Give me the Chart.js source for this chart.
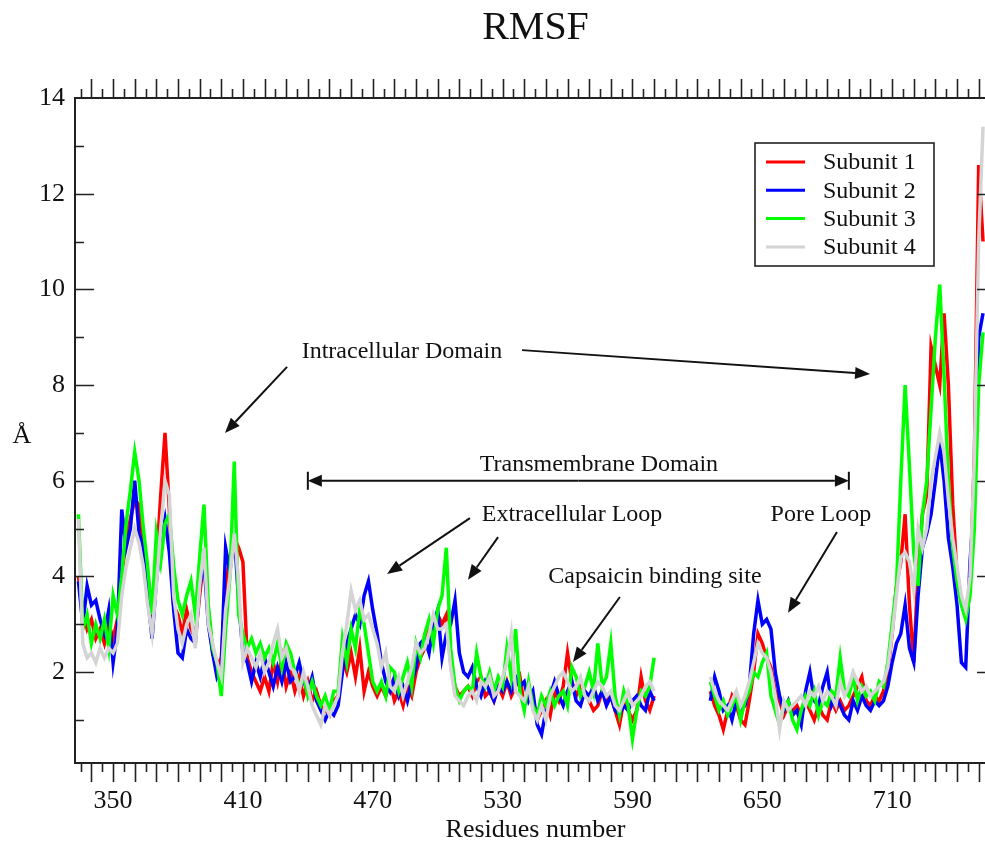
<!DOCTYPE html>
<html><head><meta charset="utf-8">
<script src="https://cdn.jsdelivr.net/npm/chart.js@4.4.0/dist/chart.umd.min.js"></script>
<style>
html,body{margin:0;padding:0;background:#fff;overflow:hidden;width:985px;height:843px;}
#wrap{position:relative;width:1010px;height:843px;}
</style></head><body>
<div id="wrap"><canvas id="c" width="1010" height="843"></canvas></div>
<script>
// ---------- data ----------
const RES_START = 334, RES_END = 752, RES_STEP = 2;
const residues = [];
for (let r = RES_START; r <= RES_END; r += RES_STEP) residues.push(r);

const X_TICK_LABELS = [350, 410, 470, 530, 590, 650, 710];
const Y_TICK_LABELS = [2, 4, 6, 8, 10, 12, 14];
const SERIES_NAMES = ['Subunit 1', 'Subunit 2', 'Subunit 3', 'Subunit 4'];

const subunit1 = [
 4.0,3.3,2.9,3.1,2.7,2.9,2.6,3.0,2.7,3.1,
 4.0,4.8,5.2,5.6,5.5,4.6,3.6,2.9,4.2,5.7,
 7.0,5.4,3.4,3.2,2.8,3.3,2.9,2.7,3.6,4.4,
 3.3,2.4,2.1,2.3,3.8,4.4,4.8,4.6,4.3,2.3,
 2.0,1.8,1.6,1.9,1.6,2.2,1.8,2.3,1.7,2.0,
 1.6,1.9,1.5,1.8,1.4,1.6,1.3,1.2,1.1,1.4,
 1.5,2.3,2.0,2.4,1.9,2.5,1.6,2.0,1.7,1.5,
 1.7,1.5,1.8,1.4,1.6,1.3,1.7,1.5,2.0,2.3,
 2.5,2.9,3.1,3.2,3.0,3.2,2.2,1.7,1.5,1.6,
 1.7,1.5,1.8,1.9,1.5,1.6,1.4,1.7,1.5,1.8,
 1.5,1.7,1.9,1.3,1.6,1.4,1.0,1.2,1.4,1.1,
 1.6,1.4,1.7,2.4,1.8,1.5,1.7,1.6,1.4,1.2,
 1.3,1.6,1.4,1.5,1.2,0.9,1.4,1.2,1.0,1.2,
 1.9,1.4,1.2,1.5,null,null,null,null,null,null,
 null,null,null,null,null,null,1.6,1.3,1.1,0.8,
 1.2,1.5,1.3,1.0,0.9,1.4,2.0,2.8,2.6,2.3,
 2.1,1.6,1.4,1.1,1.3,1.2,1.3,1.1,1.4,1.2,
 1.0,1.3,1.1,1.0,1.4,1.2,1.4,1.2,1.3,1.5,
 1.7,1.9,1.4,1.3,1.5,1.4,1.6,2.0,2.8,3.8,
 4.3,5.3,3.4,2.2,4.2,5.3,5.7,8.8,8.4,8.0,
 9.5,8.0,5.5,4.0,3.5,3.3,3.8,6.5,12.6,11.0
];
const subunit2 = [
 3.9,3.0,3.8,3.4,3.5,3.1,2.8,3.3,2.2,2.9,
 5.4,4.6,5.0,6.0,4.9,4.6,3.6,2.7,3.9,4.7,
 5.2,4.5,3.3,2.4,2.3,2.9,2.7,2.6,3.8,4.3,
 3.0,2.4,1.9,2.1,4.6,4.1,4.9,3.5,2.4,2.2,
 1.8,2.2,1.9,2.3,2.0,1.7,2.1,1.8,2.2,1.8,
 1.9,2.2,1.8,1.6,1.9,1.4,1.2,1.0,1.2,1.1,
 1.3,2.0,2.6,2.9,3.2,3.0,3.6,3.9,3.3,2.8,
 2.2,1.8,1.6,1.9,1.5,1.7,1.4,1.8,2.1,2.6,
 2.7,2.4,3.0,3.3,2.3,2.8,3.0,3.5,2.4,2.0,
 1.9,2.1,1.7,1.5,1.8,1.6,1.4,1.7,1.6,1.8,
 1.6,1.9,1.7,1.8,1.4,1.6,0.9,0.7,1.2,1.5,
 1.8,1.5,1.3,1.6,1.8,1.4,1.3,1.6,1.5,1.7,
 1.4,1.6,1.3,1.5,1.2,1.1,1.3,1.2,1.4,1.5,
 1.3,1.2,1.6,1.4,null,null,null,null,null,null,
 null,null,null,null,null,null,1.4,1.9,1.6,1.2,
 1.3,1.0,1.4,1.2,1.3,1.7,2.8,3.5,3.0,3.1,
 2.9,2.0,1.5,1.2,1.4,1.1,1.2,0.9,1.6,2.0,
 1.4,1.3,1.7,2.0,1.3,1.5,1.3,1.1,1.0,1.4,
 1.2,1.5,1.3,1.2,1.4,1.3,1.4,1.7,2.2,2.6,
 2.8,3.4,2.5,2.2,3.6,4.6,4.9,5.3,6.0,6.8,
 6.0,4.8,4.2,3.4,2.2,2.1,4.3,5.6,9.0,9.5
];
const subunit3 = [
 5.3,2.9,3.2,2.6,3.0,2.7,3.1,2.5,3.6,3.2,
 4.0,5.1,5.8,6.6,6.0,5.0,4.2,3.2,4.9,4.3,
 5.1,5.3,4.2,3.5,3.2,3.6,3.9,3.2,4.4,5.5,
 3.4,2.5,2.2,1.5,2.9,4.0,6.4,3.2,2.8,2.5,
 2.7,2.4,2.6,2.3,2.5,2.2,2.6,2.1,2.6,2.4,
 2.0,1.7,1.9,1.5,1.8,1.5,1.3,1.5,1.2,1.6,
 1.6,2.7,2.2,2.9,2.5,3.3,3.0,2.4,1.8,1.6,
 1.8,1.5,2.1,2.0,1.6,1.9,2.2,1.7,2.6,2.3,
 2.8,3.1,2.6,3.3,3.6,4.6,2.5,1.7,1.4,1.6,
 1.7,1.6,2.4,1.9,1.7,2.0,1.6,1.9,1.7,2.5,
 1.9,2.9,1.6,1.2,1.8,1.3,1.1,1.5,1.3,1.6,
 1.3,1.5,1.6,1.3,2.1,1.9,1.5,1.7,2.0,1.6,
 2.6,1.7,1.9,2.6,1.5,1.1,1.6,1.3,0.6,1.2,
 1.6,1.5,1.7,2.3,null,null,null,null,null,null,
 null,null,null,null,null,null,1.8,1.5,1.2,1.4,
 1.1,1.3,1.5,1.0,1.4,1.6,2.0,1.9,2.2,2.4,
 1.5,1.2,0.9,1.3,1.4,1.0,0.8,1.2,1.5,1.3,
 1.6,1.1,1.4,1.3,1.6,1.5,2.3,1.6,1.5,1.9,
 1.4,1.7,1.5,1.6,1.4,1.8,1.7,2.2,3.0,3.8,
 6.0,8.0,6.3,4.5,3.8,5.3,6.0,7.5,9.0,10.1,
 8.2,6.0,4.6,3.9,3.4,3.1,3.6,5.0,8.0,9.1
];
const subunit4 = [
 5.2,2.6,2.3,2.4,2.2,2.5,2.3,2.5,2.4,2.6,
 3.6,4.2,4.6,5.0,4.7,4.2,3.4,2.8,3.8,5.0,
 6.0,5.7,3.6,2.9,2.6,3.0,3.2,2.5,3.8,4.6,
 3.0,2.6,2.2,1.9,3.3,4.0,4.9,3.9,2.2,2.5,
 2.3,2.1,2.4,2.0,2.2,2.6,2.9,2.3,2.5,2.1,
 2.0,1.6,2.0,1.7,1.3,1.1,0.9,1.3,1.1,1.3,
 1.5,2.4,3.0,3.7,3.3,3.5,3.1,3.2,2.9,2.6,
 2.1,2.4,1.7,1.6,1.9,1.5,1.8,2.1,2.6,2.4,
 2.5,2.8,3.2,2.9,2.9,3.0,2.1,1.5,1.4,1.3,
 1.5,1.6,1.4,1.8,1.7,1.9,1.5,1.6,1.9,2.2,
 2.8,1.6,1.5,1.4,1.7,1.2,1.0,1.3,1.0,1.5,
 1.7,1.9,2.0,1.8,1.6,1.7,1.9,1.5,1.4,1.6,
 1.8,1.7,1.5,1.6,1.3,1.2,1.4,1.6,1.3,1.4,
 1.5,1.7,1.8,1.6,null,null,null,null,null,null,
 null,null,null,null,null,null,1.9,1.6,1.4,1.3,
 1.2,1.4,1.6,1.3,1.5,1.8,2.2,2.6,2.4,2.3,
 2.0,1.5,0.8,1.4,1.2,1.3,1.4,1.5,1.3,1.6,
 1.5,1.7,1.4,1.6,1.5,1.3,1.8,1.5,1.7,2.0,
 1.8,1.6,1.7,1.5,1.6,1.7,1.8,2.1,2.8,3.6,
 4.4,4.5,4.3,3.7,5.0,4.6,5.0,6.0,6.5,7.0,
 6.6,5.6,4.8,4.2,3.6,3.3,4.0,6.5,11.0,13.4
];

// ---------- styling ----------
const FONT = "'Liberation Serif', 'Times New Roman', serif";
const COLORS = ['#ff0000', '#0000ff', '#00ff00', '#d4d4d4'];
const X_MIN = 332.4, X_MAX = 758, Y_MIN = 0.1, Y_MAX = 14;

function pts(vals) { return residues.map((r, i) => ({ x: r, y: vals[i] })); }
const allSeries = [subunit1, subunit2, subunit3, subunit4];
const datasets = allSeries.map((vals, i) => ({
  label: SERIES_NAMES[i],
  data: pts(vals),
  borderColor: COLORS[i],
  backgroundColor: COLORS[i],
  borderWidth: 3.5,
  pointRadius: 0,
  tension: 0,
  spanGaps: false,
  order: 3 - i
}));

// annotations (data coordinates)
const ANNOT_TEXT = [
  { t: 'Intracellular Domain', r: 483.5, v: 8.69 },
  { t: 'Transmembrane Domain', r: 574.5, v: 6.33 },
  { t: 'Extracellular Loop', r: 562.1, v: 5.28 },
  { t: 'Pore Loop', r: 677.1, v: 5.28 },
  { t: 'Capsaicin binding site', r: 600.4, v: 3.99 }
];
const ANNOT_ARROWS = [
  [430.4, 8.38, 401.7, 7.0],
  [539.0, 8.73, 699.8, 8.23],
  [514.9, 5.22, 476.6, 4.05],
  [527.9, 4.82, 514.0, 3.93],
  [684.5, 4.93, 661.9, 3.24],
  [584.2, 3.57, 562.5, 2.21]
];
const TM_SPAN = [440, 690, 6.0];

function arrowHead(ctx, x1, y1, x2, y2, head, w) {
  const a = Math.atan2(y2 - y1, x2 - x1);
  const bx = x2 - head * Math.cos(a), by = y2 - head * Math.sin(a);
  ctx.beginPath(); ctx.moveTo(x1, y1); ctx.lineTo(bx, by); ctx.stroke();
  ctx.beginPath(); ctx.moveTo(x2, y2);
  ctx.lineTo(bx + w * Math.sin(a), by - w * Math.cos(a));
  ctx.lineTo(bx - w * Math.sin(a), by + w * Math.cos(a));
  ctx.closePath(); ctx.fill();
}

const decor = {
  id: 'decor',
  afterDraw(chart) {
    const { ctx, chartArea: a, scales: { x, y } } = chart;
    ctx.save();
    // frame
    ctx.strokeStyle = '#222'; ctx.lineWidth = 2;
    ctx.strokeRect(a.left, a.top, a.right - a.left, a.bottom - a.top);
    // x ticks (top outward, bottom outward)
    ctx.lineWidth = 1.6;
    for (let v = 335; v <= X_MAX; v += 5) {
      const px = Math.round(x.getPixelForValue(v)) + 0.5;
      const len = v % 10 === 0 ? 19 : 9;
      ctx.beginPath();
      ctx.moveTo(px, a.bottom); ctx.lineTo(px, a.bottom + len);
      ctx.moveTo(px, a.top); ctx.lineTo(px, a.top - len);
      ctx.stroke();
    }
    // y ticks (inward both sides)
    for (let v = 1; v <= 13; v++) {
      const py = Math.round(y.getPixelForValue(v)) + 0.5;
      const len = v % 2 === 0 ? 19 : 9;
      ctx.beginPath();
      ctx.moveTo(a.left, py); ctx.lineTo(a.left + len, py);
      ctx.moveTo(a.right, py); ctx.lineTo(a.right - len, py);
      ctx.stroke();
    }
    // title
    ctx.fillStyle = '#111';
    ctx.textAlign = 'center'; ctx.textBaseline = 'middle';
    ctx.font = '40px ' + FONT;
    ctx.fillText('RMSF', (a.left + a.right) / 2, 28);
    // y axis label
    ctx.font = '26px ' + FONT;
    ctx.fillText('Å', a.left - 53, y.getPixelForValue(6.94));
    // annotations
    ctx.font = '24px ' + FONT;
    ANNOT_TEXT.forEach(o => ctx.fillText(o.t, x.getPixelForValue(o.r), y.getPixelForValue(o.v)));
    ctx.strokeStyle = '#111'; ctx.fillStyle = '#111'; ctx.lineWidth = 2;
    ANNOT_ARROWS.forEach(([r1, v1, r2, v2]) => arrowHead(ctx,
      x.getPixelForValue(r1), y.getPixelForValue(v1),
      x.getPixelForValue(r2), y.getPixelForValue(v2), 15, 6));
    // transmembrane double arrow
    const tx1 = x.getPixelForValue(TM_SPAN[0]), tx2 = x.getPixelForValue(TM_SPAN[1]);
    const ty = y.getPixelForValue(TM_SPAN[2]);
    const mid = (tx1 + tx2) / 2;
    arrowHead(ctx, mid, ty, tx1, ty, 14, 6);
    arrowHead(ctx, mid, ty, tx2, ty, 14, 6);
    ctx.beginPath();
    ctx.moveTo(tx1, ty - 9); ctx.lineTo(tx1, ty + 9);
    ctx.moveTo(tx2, ty - 9); ctx.lineTo(tx2, ty + 9);
    ctx.stroke();
    // legend
    const bx = a.right - 241, by = a.top + 45, bw = 179, bh = 123;
    ctx.fillStyle = '#fff';
    ctx.fillRect(bx, by, bw, bh);
    ctx.strokeStyle = '#222'; ctx.lineWidth = 1.6;
    ctx.strokeRect(bx, by, bw, bh);
    ctx.font = '24px ' + FONT; ctx.textAlign = 'left';
    chart.data.datasets.forEach((ds, i) => {
      const ry = by + 19 + i * 28.3;
      ctx.strokeStyle = ds.borderColor; ctx.lineWidth = 3;
      ctx.beginPath(); ctx.moveTo(bx + 11, ry); ctx.lineTo(bx + 50, ry); ctx.stroke();
      ctx.fillStyle = '#111';
      ctx.fillText(ds.label, bx + 68, ry + 1);
    });
    ctx.restore();
  }
};

new Chart(document.getElementById('c'), {
  type: 'line',
  data: { datasets },
  options: {
    responsive: false,
    animation: false,
    devicePixelRatio: 1,
    layout: { padding: { top: 98, right: 14, left: 0, bottom: 0 } },
    plugins: { legend: { display: false }, title: { display: false }, tooltip: { enabled: false } },
    scales: {
      x: {
        type: 'linear', min: X_MIN, max: X_MAX,
        grid: { display: false, drawTicks: false },
        border: { display: false },
        afterBuildTicks: s => { s.ticks = X_TICK_LABELS.map(v => ({ value: v })); },
        afterFit: s => { s.height = 80; },
        ticks: { font: { family: FONT, size: 26 }, color: '#111', padding: 23, maxRotation: 0, autoSkip: false },
        title: { display: true, text: 'Residues number', font: { family: FONT, size: 26, lineHeight: 1.0 }, color: '#111', padding: { top: 0, bottom: 0 } }
      },
      y: {
        min: Y_MIN, max: Y_MAX,
        grid: { display: false, drawTicks: false },
        border: { display: false },
        afterBuildTicks: s => { s.ticks = Y_TICK_LABELS.map(v => ({ value: v })); },
        afterFit: s => { s.width = 75; },
        ticks: { font: { family: FONT, size: 26 }, color: '#111', padding: 10 }
      }
    }
  },
  plugins: [decor]
});
</script>
</body></html>
